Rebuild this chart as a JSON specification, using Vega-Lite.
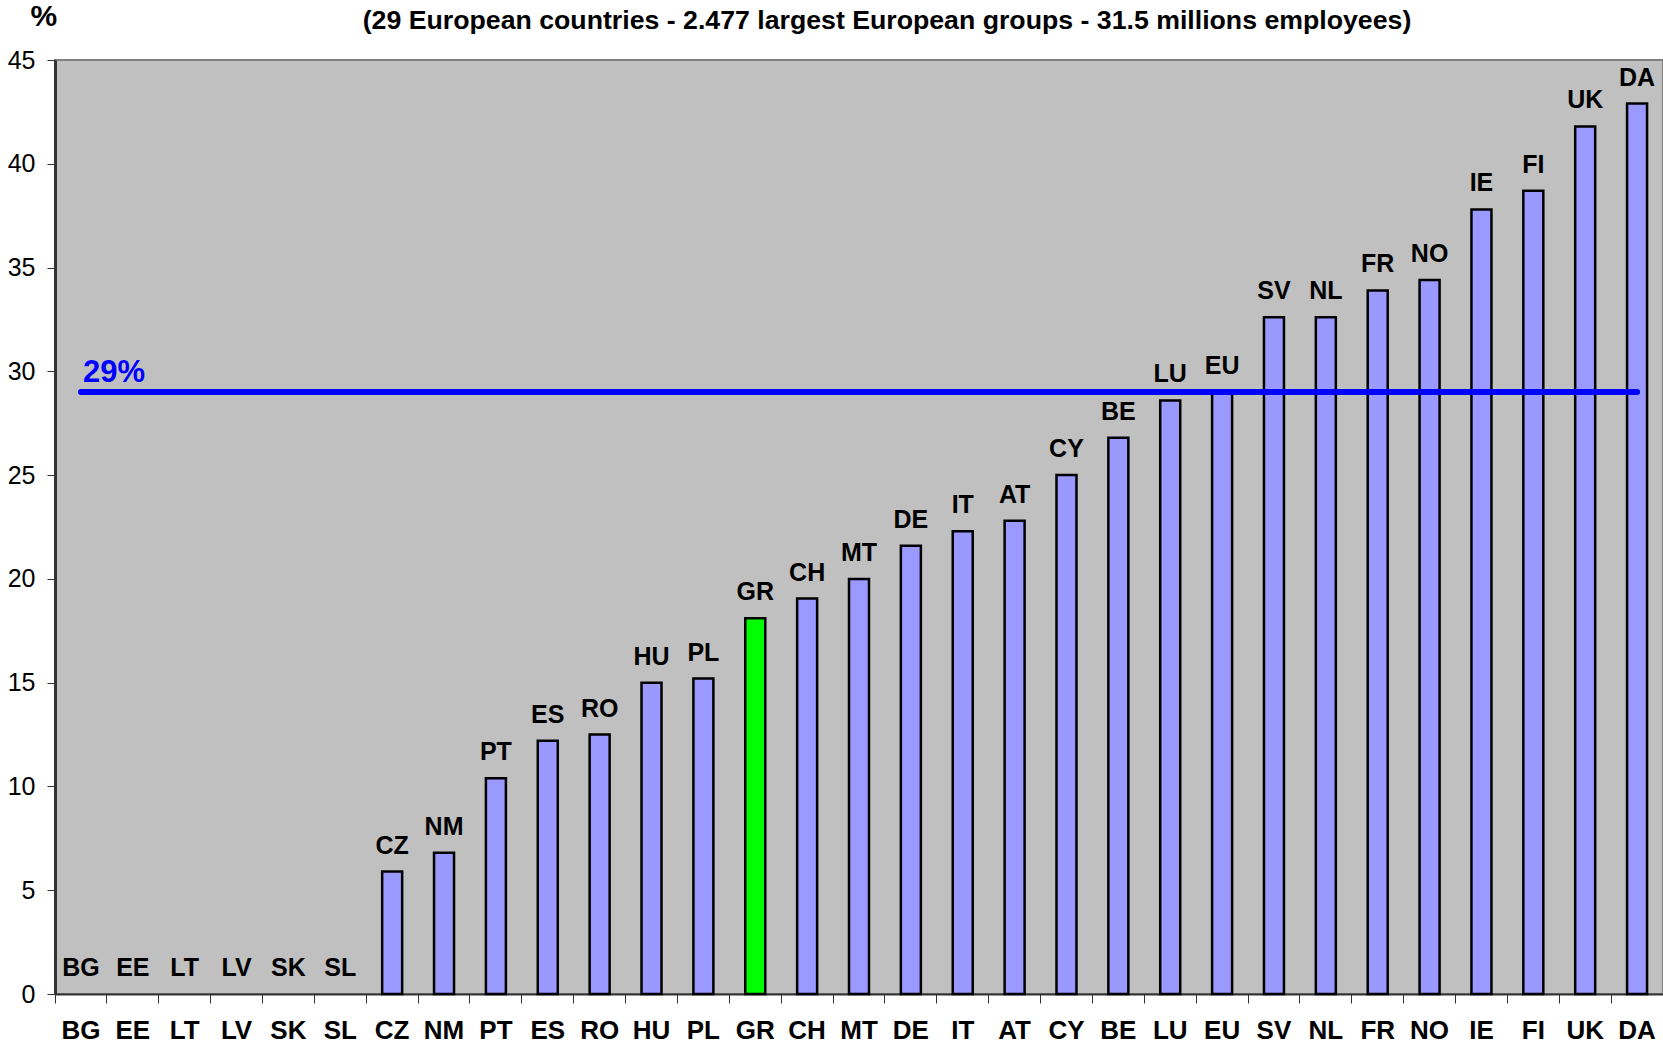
{
  "$schema": "https://vega.github.io/schema/vega-lite/v6.json",
  "autosize": "none",
  "width": 1608,
  "height": 934,
  "padding": {"left": 55, "top": 60, "right": 0, "bottom": 57},
  "background": "white",
  "config": {
    "font": "Liberation Sans",
    "view": {"fill": "#C0C0C0", "stroke": "#808080", "strokeWidth": 2}
  },
  "title": {
    "text": "(29 European countries - 2.477 largest European groups - 31.5 millions employees)",
    "fontSize": 26.7,
    "fontWeight": "bold",
    "color": "black",
    "anchor": "middle",
    "frame": "group",
    "baseline": "alphabetic",
    "dx": 28,
    "offset": -55
  },
  "datasets": {
    "rates": [
      {"country": "BG", "value": 0},
      {"country": "EE", "value": 0},
      {"country": "LT", "value": 0},
      {"country": "LV", "value": 0},
      {"country": "SK", "value": 0},
      {"country": "SL", "value": 0},
      {"country": "CZ", "value": 5.9},
      {"country": "NM", "value": 6.8},
      {"country": "PT", "value": 10.4},
      {"country": "ES", "value": 12.2},
      {"country": "RO", "value": 12.5},
      {"country": "HU", "value": 15.0},
      {"country": "PL", "value": 15.2},
      {"country": "GR", "value": 18.1},
      {"country": "CH", "value": 19.05},
      {"country": "MT", "value": 20.0},
      {"country": "DE", "value": 21.6},
      {"country": "IT", "value": 22.3},
      {"country": "AT", "value": 22.8},
      {"country": "CY", "value": 25.0},
      {"country": "BE", "value": 26.8},
      {"country": "LU", "value": 28.6},
      {"country": "EU", "value": 29.0},
      {"country": "SV", "value": 32.6},
      {"country": "NL", "value": 32.6},
      {"country": "FR", "value": 33.9},
      {"country": "NO", "value": 34.4},
      {"country": "IE", "value": 37.8},
      {"country": "FI", "value": 38.7},
      {"country": "UK", "value": 41.8},
      {"country": "DA", "value": 42.9}
    ],
    "avg": [
      {"from": "BG", "to": "DA", "value": 29, "label": "29%"}
    ]
  },
  "layer": [
    {
      "data": {"name": "rates"},
      "transform": [{"filter": "datum.value > 0"}],
      "mark": {"type": "bar", "width": 20, "stroke": "black", "strokeWidth": 2.5},
      "encoding": {
        "x": {
          "field": "country",
          "type": "nominal",
          "sort": null,
          "scale": {
            "domain": ["BG","EE","LT","LV","SK","SL","CZ","NM","PT","ES","RO","HU","PL","GR","CH","MT","DE","IT","AT","CY","BE","LU","EU","SV","NL","FR","NO","IE","FI","UK","DA"],
            "paddingInner": 0,
            "paddingOuter": 0
          },
          "axis": {
            "title": null,
            "bandPosition": 0,
            "labelAngle": 0,
            "labelFontSize": 26,
            "labelFontWeight": "bold",
            "labelColor": "black",
            "labelPadding": 14,
            "labelBaseline": "top",
            "domainColor": "#333333",
            "domainWidth": 2,
            "tickColor": "#333333",
            "tickWidth": 1,
            "tickSize": 9
          }
        },
        "y": {
          "field": "value",
          "type": "quantitative",
          "scale": {"domain": [0, 45], "nice": false},
          "axis": {
            "title": "%",
            "titleAngle": 0,
            "titleFontSize": 30,
            "titleFontWeight": "bold",
            "titleColor": "black",
            "titleAlign": "left",
            "titleBaseline": "alphabetic",
            "titleX": -25,
            "titleY": -35,
            "values": [0, 5, 10, 15, 20, 25, 30, 35, 40, 45],
            "grid": false,
            "labelFontSize": 25,
            "labelColor": "black",
            "labelPadding": 12,
            "domainColor": "#333333",
            "domainWidth": 3,
            "tickColor": "#333333",
            "tickWidth": 1,
            "tickSize": 8
          }
        },
        "fill": {
          "condition": {"test": "datum.country === 'GR'", "value": "#00FF00"},
          "value": "#9999FF"
        }
      }
    },
    {
      "data": {"name": "rates"},
      "mark": {
        "type": "text",
        "fontSize": 25,
        "fontWeight": "bold",
        "color": "black",
        "baseline": "alphabetic",
        "align": "center",
        "dy": -18
      },
      "encoding": {
        "x": {"field": "country", "type": "nominal", "sort": null},
        "y": {"field": "value", "type": "quantitative"},
        "text": {"field": "country"}
      }
    },
    {
      "data": {"name": "avg"},
      "mark": {"type": "rule", "color": "#0000FF", "strokeWidth": 6, "strokeCap": "round"},
      "encoding": {
        "x": {"field": "from", "type": "nominal", "sort": null},
        "x2": {"field": "to"},
        "y": {"field": "value", "type": "quantitative"}
      }
    },
    {
      "data": {"name": "avg"},
      "mark": {
        "type": "text",
        "fontSize": 31,
        "fontWeight": "bold",
        "color": "#0000FF",
        "align": "left",
        "baseline": "alphabetic",
        "dx": 2,
        "dy": -10
      },
      "encoding": {
        "x": {"field": "from", "type": "nominal", "sort": null},
        "y": {"field": "value", "type": "quantitative"},
        "text": {"field": "label"}
      }
    }
  ]
}
